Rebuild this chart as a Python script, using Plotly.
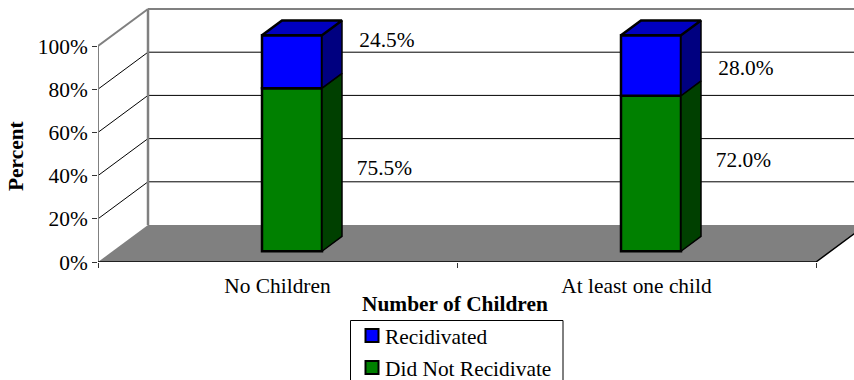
import plotly.graph_objects as go

# ---- data ----
categories = ["No Children", "At least one child"]
recidivated = [24.5, 28.0]
did_not_recidivate = [75.5, 72.0]
y_ticks = [0, 20, 40, 60, 80, 100]
y_tick_labels = ["0%", "20%", "40%", "60%", "80%", "100%"]

# ---- style / layout constants ----
FONT = "Liberation Serif"
FS = 21.4
W, H = 854, 380
ML, MB = 98, 118
PX_X = 359.0   # px per category
PX_Y = 2.16    # px per percent
GREEN, GREEN_SIDE = "#008000", "#004000"
BLUE, BLUE_SIDE, BLUE_TOP = "#0000ff", "#000080", "#0000c0"
GRAY = "#808080"

DEPTH_X = 50 / PX_X
DEPTH_Y = 37 / PX_Y
BAR_W = 60 / PX_X
D_FRONT, D_BACK = 0.29, 0.69
x_pos = list(range(len(categories)))


def dep(x, y, d):
    return x + d * DEPTH_X, y + d * DEPTH_Y


def px(x):
    return (x - ML) / (W - ML)


def py(y):
    return (H - MB - y) / (H - MB)


fig = go.Figure()
shapes = []
x_end = 1.5
x0 = -0.5


def line(a, b, color="#000000", width=1):
    shapes.append(dict(type="line", xref="x", yref="y", layer="below",
                       x0=a[0], y0=a[1], x1=b[0], y1=b[1],
                       line=dict(color=color, width=width)))


# floor
fx = [x0, dep(x0, 0, 1)[0], dep(x_end, 0, 1)[0], x_end]
fy = [0, DEPTH_Y, DEPTH_Y, 0]
path = "M" + " L".join(f"{a},{b}" for a, b in zip(fx, fy)) + " Z"
shapes.append(dict(type="path", xref="x", yref="y", layer="below", path=path,
                   fillcolor=GRAY, line=dict(width=0)))

# gridlines on both walls
far = dep(x_end, 0, 1)[0]
for t in y_ticks[1:-1]:
    line((x0, t), dep(x0, t, 1), "#000000", 1)
    line(dep(x0, t, 1), (far, t + DEPTH_Y), "#000000", 1)
# wall frame
line((x0, 100), dep(x0, 100, 1), GRAY, 2)
line(dep(x0, 100, 1), (far, 100 + DEPTH_Y), GRAY, 2)
line(dep(x0, 0, 1), dep(x0, 100, 1), GRAY, 2.5)


def poly(xs, ys, fill, lw=1.5, color="#000000"):
    fig.add_trace(go.Scatter(x=xs + xs[:1], y=ys + ys[:1], mode="lines", fill="toself",
                             fillcolor=fill, line=dict(color=color, width=lw),
                             hoverinfo="skip", showlegend=False))


def open_line(xs, ys, color, width):
    fig.add_trace(go.Scatter(x=xs, y=ys, mode="lines", cliponaxis=False,
                             line=dict(color=color, width=width),
                             hoverinfo="skip", showlegend=False))


# front axis lines
open_line([x0, x0], [0, 100], GRAY, 2)
open_line([x0, x_end, dep(x_end, 0, 1)[0]], [0, 0, DEPTH_Y], "#000000", 1.5)

# front faces of the bars
front_x = [dep(c + BAR_W / 2, 0, D_FRONT)[0] - BAR_W / 2 for c in x_pos]
lift = D_FRONT * DEPTH_Y
fig.add_trace(go.Bar(x=front_x, y=did_not_recidivate, base=[lift] * len(x_pos), width=BAR_W,
                     name="Did Not Recidivate", marker=dict(color=GREEN, line=dict(color="#000000", width=2.5)),
                     showlegend=False))
fig.add_trace(go.Bar(x=front_x, y=recidivated, base=[lift + v for v in did_not_recidivate], width=BAR_W,
                     name="Recidivated", marker=dict(color=BLUE, line=dict(color="#000000", width=2.5)),
                     showlegend=False))

# side and top faces, derived from the values
for c, g, b in zip(x_pos, did_not_recidivate, recidivated):
    r = c + BAR_W / 2
    l = c - BAR_W / 2

    def quad(pts):
        return [p[0] for p in pts], [p[1] for p in pts]

    xs, ys = quad([dep(r, 0, D_FRONT), dep(r, 0, D_BACK), dep(r, g, D_BACK), dep(r, g, D_FRONT)])
    poly(xs, ys, GREEN_SIDE)
    xs, ys = quad([dep(r, g, D_FRONT), dep(r, g, D_BACK), dep(r, g + b, D_BACK), dep(r, g + b, D_FRONT)])
    poly(xs, ys, BLUE_SIDE)
    xs, ys = quad([dep(l, g + b, D_FRONT), dep(l, g + b, D_BACK), dep(r, g + b, D_BACK), dep(r, g + b, D_FRONT)])
    poly(xs, ys, BLUE_TOP, lw=2.5)

# data labels
label_x_recid = [0.305, 0.305]
label_x_not = [0.298, 0.298]
label_y_recid = [102.0, 89.0]
label_y_not = [42.6, 46.4]
fig.add_trace(go.Scatter(
    x=[c + o for c, o in zip(x_pos, label_x_recid)] + [c + o for c, o in zip(x_pos, label_x_not)],
    y=label_y_recid + label_y_not, mode="text",
    text=[f"{v:.1f}%" for v in recidivated + did_not_recidivate],
    textposition="middle center", textfont=dict(family=FONT, size=FS, color="#000000"),
    hoverinfo="skip", showlegend=False, cliponaxis=False))

# legend box (runs past the bottom of the picture, as in the reference)
legend_names = ["Recidivated", "Did Not Recidivate"]
legend_colors = [BLUE, GREEN]
legend_rows = [336, 368]
shapes.append(dict(type="rect", xref="paper", yref="paper", layer="above",
                   x0=px(350.5), x1=px(563), y0=py(320.5), y1=py(395),
                   fillcolor="#ffffff", line=dict(color="#000000", width=1)))
annotations = []
for name, col, row in zip(legend_names, legend_colors, legend_rows):
    shapes.append(dict(type="rect", xref="paper", yref="paper", layer="above",
                       x0=px(365.5), x1=px(378.5), y0=py(row - 7), y1=py(row + 6),
                       fillcolor=col, line=dict(color="#000000", width=2)))
    annotations.append(dict(xref="paper", yref="paper", x=px(383), y=py(row + 1), text=name,
                            showarrow=False, xanchor="left", yanchor="middle",
                            font=dict(family=FONT, size=FS, color="#000000")))

# axis titles
annotations.append(dict(xref="paper", yref="paper", x=px(455), y=py(304), text="<b>Number of Children</b>",
                        showarrow=False, xanchor="center", yanchor="middle",
                        font=dict(family=FONT, size=FS, color="#000000")))
annotations.append(dict(xref="paper", yref="paper", x=px(16), y=py(156), text="<b>Percent</b>", textangle=-90,
                        showarrow=False, xanchor="center", yanchor="middle",
                        font=dict(family=FONT, size=FS, color="#000000")))

fig.update_layout(
    width=W, height=H, autosize=False, barmode="overlay",
    margin=dict(l=ML, r=0, t=0, b=MB, pad=0),
    paper_bgcolor="#ffffff", plot_bgcolor="#ffffff",
    showlegend=False, shapes=shapes, annotations=annotations,
    xaxis=dict(range=[x0, x0 + (W - ML) / PX_X], tickmode="array", tickvals=x_pos, ticktext=categories,
               ticks="", showgrid=False, zeroline=False, showline=False,
               ticklabelstandoff=9,
               tickfont=dict(family=FONT, size=FS, color="#000000"),
               minor=dict(tickmode="array", tickvals=[-0.5, 0.5, 1.5], ticks="outside", ticklen=5,
                          tickwidth=1, tickcolor="#333333", showgrid=False)),
    yaxis=dict(range=[0, (H - MB) / PX_Y], tickmode="array", tickvals=y_ticks, ticktext=y_tick_labels,
               ticks="outside", ticklen=5, tickwidth=1, tickcolor="#333333",
               showgrid=False, zeroline=False, showline=False,
               tickfont=dict(family=FONT, size=FS, color="#000000")),
)

fig.write_html("out.html", config={"displayModeBar": False},
               post_script="document.body.style.margin='0';document.documentElement.style.overflow='hidden';")
